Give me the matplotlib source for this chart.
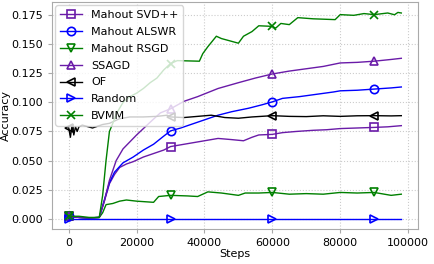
import numpy as np
import matplotlib
matplotlib.use('Agg')
import matplotlib.pyplot as plt

# datos (pasos, precision)
pasos_svd = [0, 3000, 6000, 9000, 10500, 12000, 13500, 15000, 17000, 19000, 22000, 25000, 28000, 30000,
             34000, 38000, 42000, 44000, 48000, 51500, 54000, 56000, 60000, 63000, 67000, 72000, 76000,
             80000, 85000, 90000, 94000, 98000]
svd = [0.002, 0.001, 0.0005, 0.001, 0.015, 0.030, 0.038, 0.044, 0.047, 0.049, 0.053, 0.056, 0.059, 0.062,
       0.064, 0.066, 0.068, 0.069, 0.068, 0.067, 0.070, 0.072, 0.0725, 0.074, 0.075, 0.076, 0.0765,
       0.0775, 0.078, 0.0785, 0.079, 0.080]

pasos_als = [0, 3000, 6000, 9000, 10500, 12000, 13500, 16000, 19000, 22000, 25000, 28000, 30000, 33000,
             36000, 40000, 44000, 48000, 53000, 57000, 60000, 63000, 68000, 73000, 78000, 80000, 85000,
             90000, 95000, 98000]
als = [0.002, 0.001, 0.0005, 0.001, 0.016, 0.031, 0.040, 0.048, 0.053, 0.059, 0.064, 0.071, 0.0755, 0.078,
       0.081, 0.085, 0.089, 0.092, 0.095, 0.098, 0.1005, 0.1035, 0.105, 0.107, 0.109, 0.110, 0.1105,
       0.1115, 0.1125, 0.1133]

pasos_rsgd = [0, 3000, 6000, 9000, 10000, 11000, 13000, 15000, 17000, 20000, 25000, 26500, 30000, 35000,
              38000, 41000, 45000, 50000, 52000, 56000, 60000, 65000, 70000, 75000, 80000, 85000, 90000,
              95000, 98000]
rsgd = [0.002, 0.001, 0.0005, 0.001, 0.005, 0.012, 0.013, 0.015, 0.016, 0.015, 0.014, 0.019, 0.020, 0.0195,
        0.019, 0.023, 0.022, 0.020, 0.022, 0.022, 0.0225, 0.021, 0.0215, 0.021, 0.0225, 0.022, 0.0225,
        0.020, 0.021]

pasos_ssagd = [0, 3000, 6000, 9000, 10500, 12000, 14000, 16000, 20000, 24000, 27000, 30000, 34000, 38000,
               44000, 50000, 55000, 60000, 65000, 70000, 75000, 80000, 85000, 90000, 95000, 98000]
ssagd = [0.002, 0.001, 0.0005, 0.001, 0.015, 0.033, 0.050, 0.060, 0.072, 0.083, 0.091, 0.0945, 0.101, 0.105,
         0.112, 0.117, 0.121, 0.1245, 0.127, 0.129, 0.131, 0.134, 0.1345, 0.1355, 0.137, 0.138]

pasos_of = [0, 500, 1000, 1500, 2000, 2500, 3000, 4000, 7000, 10000, 12000, 15000, 18000, 22000, 26000,
            29000, 30000, 34000, 38000, 42000, 46000, 50000, 54000, 60000, 65000, 70000, 75000, 80000,
            85000, 90000, 95000, 98000]
of = [0.078, 0.070, 0.081, 0.072, 0.079, 0.075, 0.079, 0.0805, 0.078, 0.081, 0.082, 0.086, 0.0875, 0.0875,
      0.088, 0.089, 0.0875, 0.087, 0.088, 0.089, 0.087, 0.0864, 0.0875, 0.0886, 0.088, 0.0878, 0.0885,
      0.088, 0.0885, 0.0886, 0.0884, 0.0886]

pasos_rand = [0, 30000, 60000, 90000, 98000]
rand = [0.0, 0.0, 0.0, 0.0, 0.0]

pasos_bvmm = [0, 3000, 6000, 9000, 10000, 11000, 12000, 13000, 14000, 16000, 18000, 20000, 22000, 24000,
              26000, 28000, 30000, 32000, 38500, 39500, 41000, 43500, 45000, 50000, 51500, 54000, 56000,
              60000, 61000, 62500, 65000, 67500, 72000, 78500, 80000, 84000, 87000, 90000, 94000, 96000,
              97000, 98000]
bvmm = [0.002, 0.002, 0.001, 0.001, 0.02, 0.05, 0.075, 0.082, 0.090, 0.100, 0.105, 0.108, 0.112, 0.117,
        0.121, 0.128, 0.1335, 0.136, 0.1355, 0.142, 0.148, 0.157, 0.155, 0.151, 0.157, 0.161, 0.166,
        0.1655, 0.164, 0.168, 0.167, 0.173, 0.172, 0.1713, 0.1756, 0.175, 0.1765, 0.1756, 0.177, 0.1755,
        0.1775, 0.177]

morado = '#6a1ba8'
marcas = [0, 30000, 60000, 90000]

series = [
    (pasos_svd, svd, morado, 's', "Mahout SVD++"),
    (pasos_als, als, 'blue', 'o', "Mahout ALSWR"),
    (pasos_rsgd, rsgd, 'green', 'v', "Mahout RSGD"),
    (pasos_ssagd, ssagd, morado, '^', "SSAGD"),
    (pasos_of, of, 'black', '<', "OF"),
    (pasos_rand, rand, 'blue', '>', "Random"),
    (pasos_bvmm, bvmm, 'green', 'x', "BVMM"),
]

fig = plt.figure(figsize=(4.34, 2.64), dpi=100)
ax = fig.add_axes([0.12, 0.133, 0.843, 0.859])

for xs, ys, c, m, lab in series:
    xs = np.array(xs)
    idx = [int(np.argmin(np.abs(xs - p))) for p in marcas]
    ax.plot(xs, ys, c=c, marker=m, markevery=idx, markersize=6, mfc='none',
            mew=1.2, lw=1, label=lab)

ax.grid(True, ls=':', color='#cccccc', lw=0.8)
for s in ax.spines.values():
    s.set_color('#aaaaaa')
ax.tick_params(labelsize=8, color='#aaaaaa', length=3)
ax.set_xticks([0, 20000, 40000, 60000, 80000, 100000])
ax.set_yticks([0.0, 0.025, 0.05, 0.075, 0.1, 0.125, 0.15, 0.175])
ax.yaxis.set_major_formatter(matplotlib.ticker.FormatStrFormatter('%.3f'))
ax.set_xlabel("Steps", fontsize=8, labelpad=1)
ax.set_ylabel("Accuracy", fontsize=8, labelpad=0.5)
ax.legend(loc='upper left', fontsize=8, framealpha=0.8, borderaxespad=0.3,
          labelspacing=0.62)
plt.savefig("out.png", dpi=100)
